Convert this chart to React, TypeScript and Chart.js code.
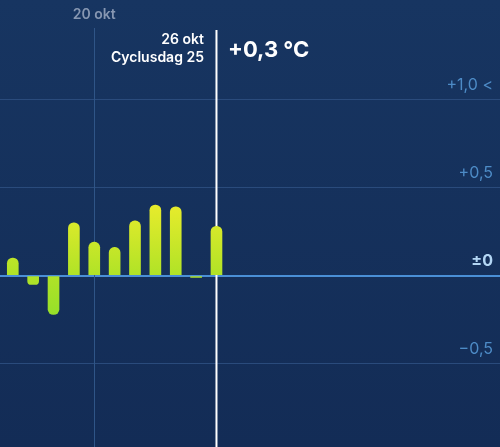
import React, { useEffect, useRef } from "react";
import { Chart, registerables } from "chart.js";

Chart.register(...registerables);

// ---- data ----
const DAYS = [16, 17, 18, 19, 20, 21, 22, 23, 24, 25, 26]; // day of month (okt)
const CYCLE_DAYS = [15, 16, 17, 18, 19, 20, 21, 22, 23, 24, 25];
const VALUES = [0.1, -0.05, -0.22, 0.3, 0.19, 0.16, 0.31, 0.4, 0.39, -0.01, 0.28];
const MONTH = "okt";
const MARKED_DAY = 20;
const SELECTED_INDEX = 10;
const SELECTED_VALUE_LABEL = "+0,3 °C";
const Y_TICKS = [-0.5, 0, 0.5, 1.0];
const Y_TICK_LABELS = ["\u22120,5", "\u00B10", "+0,5", "+1,0 <"];
const X_MIN = 15.372;
const X_MAX = 39.92;
const Y_MIN = -0.97;
const Y_MAX = 1.561;

const BG_TOP = "#173561";
const BG_BOTTOM = "#132c56";
const GRID = "#2a4b7c";
const ZERO = "#4a8fd6";
const FONT = "Inter, 'Noto Sans', sans-serif";

export default function App() {
  const ref = useRef<HTMLCanvasElement | null>(null);

  useEffect(() => {
    document.body.style.margin = "0";
    document.body.style.background = BG_TOP;
    const canvas = ref.current;
    if (!canvas) return;

    const background = {
      id: "bg",
      beforeDraw(chart: any) {
        const { ctx, width, height } = chart;
        const g = ctx.createLinearGradient(0, 0, 0, height);
        g.addColorStop(0, BG_TOP);
        g.addColorStop(1, BG_BOTTOM);
        ctx.save();
        ctx.fillStyle = g;
        ctx.fillRect(0, 0, width, height);
        ctx.restore();
      },
      beforeDatasetsDraw(chart: any) {
        const { ctx, scales, height } = chart;
        const xm = Math.round(scales.x.getPixelForValue(MARKED_DAY)) + 0.5;
        ctx.save();
        ctx.strokeStyle = "#2f5587";
        ctx.lineWidth = 1;
        ctx.beginPath();
        ctx.moveTo(xm, 28);
        ctx.lineTo(xm, height);
        ctx.stroke();
        const xs = scales.x.getPixelForValue(DAYS[SELECTED_INDEX]);
        ctx.strokeStyle = "#ffffff";
        ctx.lineWidth = 2;
        ctx.beginPath();
        ctx.moveTo(xs, 30);
        ctx.lineTo(xs, height);
        ctx.stroke();
        ctx.restore();
      },
      afterDraw(chart: any) {
        const { ctx, scales, chartArea } = chart;
        ctx.save();
        ctx.textAlign = "right";
        ctx.textBaseline = "alphabetic";
        Y_TICKS.forEach((v, i) => {
          const y = scales.y.getPixelForValue(v);
          if (v === 0) {
            ctx.font = `700 16px ${FONT}`;
            ctx.fillStyle = "#b3d6f4";
          } else {
            ctx.font = `400 16px ${FONT}`;
            ctx.fillStyle = "#4d8bc6";
          }
          ctx.fillText(Y_TICK_LABELS[i], chartArea.right - 7, y - 9.5);
        });
        const xm = scales.x.getPixelForValue(MARKED_DAY);
        ctx.textAlign = "center";
        ctx.font = `600 14px ${FONT}`;
        ctx.fillStyle = "#8797b2";
        ctx.fillText(`${MARKED_DAY} ${MONTH}`, xm, 18.5);
        const xs = scales.x.getPixelForValue(DAYS[SELECTED_INDEX]);
        ctx.textAlign = "right";
        ctx.fillStyle = "#ffffff";
        ctx.font = `600 14px ${FONT}`;
        ctx.fillText(`${DAYS[SELECTED_INDEX]} ${MONTH}`, xs - 12.5, 44);
        ctx.fillText(`Cyclusdag ${CYCLE_DAYS[SELECTED_INDEX]}`, xs - 12.5, 62);
        ctx.textAlign = "left";
        ctx.font = `700 22px ${FONT}`;
        ctx.fillText(SELECTED_VALUE_LABEL, xs + 11.5, 57);
        ctx.restore();
      },
    };

    const chart = new Chart(canvas, {
      type: "bar",
      data: {
        datasets: [
          {
            data: DAYS.map((d, i) => ({ x: d, y: VALUES[i] })),
            barThickness: 11,
            borderRadius: 6,
            borderSkipped: "start",
            backgroundColor: (c: any) => {
              const ch = c.chart;
              if (!ch.chartArea || !ch.scales.y) return "#c4e628";
              const yS = ch.scales.y;
              const g = ch.ctx.createLinearGradient(0, yS.getPixelForValue(0.42), 0, yS.getPixelForValue(-0.25));
              g.addColorStop(0, "#eaec2c");
              g.addColorStop(0.6, "#b2e327");
              g.addColorStop(1, "#93df2a");
              return g;
            },
          },
        ],
      },
      options: {
        animation: false,
        responsive: false,
        layout: { padding: 0 },
        plugins: { legend: { display: false }, tooltip: { enabled: false } },
        scales: {
          x: {
            type: "linear",
            min: X_MIN,
            max: X_MAX,
            display: false,
            offset: false,
            bounds: "data",
            grid: { offset: false },
          },
          y: {
            type: "linear",
            min: Y_MIN,
            max: Y_MAX,
            bounds: "data",
            position: "right",
            border: { display: false },
            ticks: { display: false },
            afterBuildTicks: (scale: any) => {
              scale.ticks = Y_TICKS.map((value) => ({ value }));
            },
            grid: {
              drawTicks: false,
              color: (c: any) => (c.tick && c.tick.value === 0 ? ZERO : GRID),
              lineWidth: (c: any) => (c.tick && c.tick.value === 0 ? 2 : 1),
            },
          },
        },
      },
      plugins: [background],
    } as any);

    return () => chart.destroy();
  }, []);

  return (
    <div style={{ width: 500, height: 447 }}>
      <canvas ref={ref} width={500} height={447} style={{ display: "block" }} />
    </div>
  );
}
